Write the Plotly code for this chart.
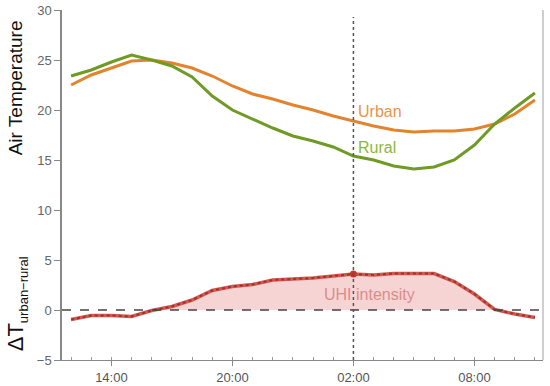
import plotly.graph_objects as go

hours = list(range(12, 36))  # 12:00 .. 11:00 next day
urban = [22.5, 23.5, 24.2, 24.9, 25.0, 24.7, 24.2, 23.4, 22.4, 21.6, 21.1, 20.5,
         20.0, 19.4, 18.9, 18.4, 18.0, 17.8, 17.9, 17.9, 18.1, 18.6, 19.6, 21.0]
rural = [23.4, 24.0, 24.8, 25.5, 25.0, 24.4, 23.3, 21.4, 20.0, 19.1, 18.2, 17.4,
         16.9, 16.3, 15.4, 15.0, 14.4, 14.1, 14.3, 15.0, 16.5, 18.6, 20.2, 21.7]
delta = [-0.95, -0.55, -0.55, -0.65, -0.05, 0.35, 1.0, 1.95, 2.35, 2.55, 3.0, 3.1,
         3.2, 3.4, 3.6, 3.5, 3.65, 3.65, 3.65, 2.85, 1.6, 0.05, -0.4, -0.75]
tick_vals = [14, 20, 26, 32]
tick_text = ["14:00", "20:00", "02:00", "08:00"]
y_ticks = [-5, 0, 5, 10, 15, 20, 25, 30]
highlight_hour = 26

pos_delta = [max(d, 0) for d in delta]
hl_val = delta[hours.index(highlight_hour)]

fig = go.Figure()
fig.add_trace(go.Scatter(x=hours, y=pos_delta, mode="lines", fill="tozeroy",
                         fillcolor="rgba(226,120,118,0.32)", line=dict(width=0),
                         hoverinfo="skip", showlegend=False))
fig.add_shape(type="line", x0=0, x1=1, xref="paper", y0=0, y1=0,
              line=dict(color="#444", width=1.3, dash="dash"))
fig.add_shape(type="line", x0=highlight_hour, x1=highlight_hour, y0=-5, y1=29.3,
              line=dict(color="#555", width=1.5, dash="dot"))
fig.add_trace(go.Scatter(x=hours, y=urban, mode="lines",
                         line=dict(color="#e2842f", width=3), showlegend=False))
fig.add_trace(go.Scatter(x=hours, y=rural, mode="lines",
                         line=dict(color="#6f9a25", width=3), showlegend=False))
fig.add_trace(go.Scatter(x=hours, y=delta, mode="lines",
                         line=dict(color="#d05a52", width=3.5), showlegend=False))
fig.add_trace(go.Scatter(x=hours, y=delta, mode="lines",
                         line=dict(color="#a3302a", width=2, dash="dot"), showlegend=False))
fig.add_trace(go.Scatter(x=[highlight_hour], y=[hl_val], mode="markers",
                         marker=dict(color="#c0392b", size=7), showlegend=False))

fig.add_annotation(x=26.15, y=19.9, text="Urban", showarrow=False, xanchor="left",
                   font=dict(color="#e8954a", size=16, family="Liberation Sans"))
fig.add_annotation(x=26.15, y=16.3, text="Rural", showarrow=False, xanchor="left",
                   font=dict(color="#8db83a", size=16, family="Liberation Sans"))
fig.add_annotation(x=26.8, y=1.6, text="UHI intensity", showarrow=False,
                   font=dict(color="#dd8c8c", size=16, family="Liberation Sans"))
fig.add_annotation(x=-0.097, xref="paper", y=22.2, text="Air Temperature", showarrow=False,
                   textangle=-90, xanchor="center", yanchor="middle",
                   font=dict(color="#111", size=19, family="Liberation Sans"))
fig.add_annotation(x=-0.093, xref="paper", y=0.6,
                   text="ΔT<sub><span style='font-size:13px'>urban−rural</span></sub>",
                   showarrow=False, textangle=-90, xanchor="center", yanchor="middle",
                   font=dict(color="#111", size=22, family="Liberation Sans"))
fig.add_shape(type="line", x0=1, x1=1, xref="paper", y0=0, y1=1, yref="paper",
              line=dict(color="#cfcfcf", width=2))

fig.update_layout(
    width=550, height=386, margin=dict(l=62, r=7, t=10, b=26),
    plot_bgcolor="white", paper_bgcolor="white",
    font=dict(family="Liberation Sans", color="#555", size=13),
    xaxis=dict(range=[11.55, 35.4], tickvals=tick_vals, ticktext=tick_text,
               automargin=False,
               showgrid=False, zeroline=False, showline=True, linecolor="#888", linewidth=1,
               ticks="outside", ticklen=5, tickcolor="#888",
               minor=dict(dtick=1, tick0=0, ticks="inside", ticklen=3, tickcolor="#999",
                          showgrid=False),
               tickfont=dict(size=13, color="#555")),
    yaxis=dict(range=[-5, 30], tickvals=y_ticks, showgrid=False, zeroline=False,
               automargin=False,
               showline=True, linecolor="#888", linewidth=1.5,
               ticks="outside", ticklen=6, tickcolor="#888",
               tickfont=dict(size=13, color="#666")),
)
fig.write_html("out.html", config={"displayModeBar": False},
               post_script="document.body.style.margin='0';")
